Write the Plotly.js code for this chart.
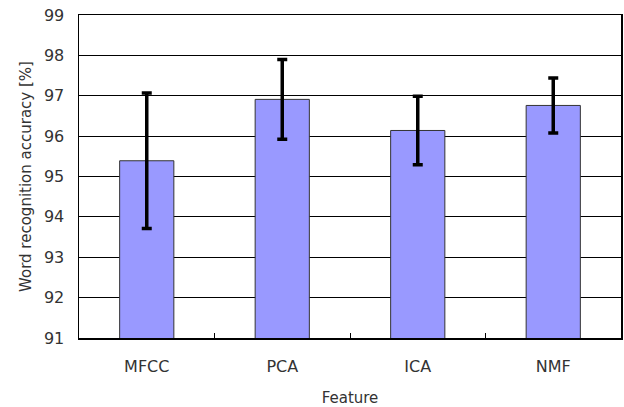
<!DOCTYPE html>
<html><head><meta charset="utf-8">
<script src="https://cdn.plot.ly/plotly-3.0.1.min.js"></script>
<style>html,body{margin:0;padding:0;background:#fff;}#chart{width:624px;height:407px;}</style>
</head><body><div id="chart"></div>
<script>
const categories = ["MFCC", "PCA", "ICA", "NMF"];
const accuracy = [95.39, 96.91, 96.14, 96.76];
const errorPlusMinus = [1.68, 0.99, 0.85, 0.68];
const yTicks = [91, 92, 93, 94, 95, 96, 97, 98, 99];

const trace = {
  type: "bar",
  x: categories,
  y: accuracy,
  marker: {color: "#9999FF", line: {color: "#333333", width: 1}},
  error_y: {type: "data", array: errorPlusMinus, visible: true, color: "#000000", thickness: 3.5, width: 5}
};

const layout = {
  width: 624, height: 407,
  margin: {l: 79, r: 3, t: 15, b: 69},
  paper_bgcolor: "#ffffff", plot_bgcolor: "#ffffff",
  font: {family: "DejaVu Sans, sans-serif", size: 15, color: "#333333"},
  bargap: 0.6,
  showlegend: false,
  xaxis: {
    type: "category",
    showline: true, linecolor: "#000000", linewidth: 1.5, mirror: true,
    ticks: "inside", tickson: "boundaries", ticklen: 5, tickcolor: "#000000",
    showgrid: false,
    tickfont: {size: 16, color: "#333333"},
    ticklabelstandoff: 13,
    title: {text: "Feature", font: {size: 15, color: "#333333"}, standoff: 18}
  },
  yaxis: {
    range: [91, 99],
    tickvals: yTicks,
    showline: true, linecolor: "#000000", linewidth: 1.5, mirror: true,
    showgrid: true, gridcolor: "#000000", gridwidth: 1,
    ticks: "", zeroline: false,
    tickfont: {size: 16, color: "#333333"},
    ticklabelstandoff: 10,
    title: {text: "Word recognition accuracy [%]", font: {size: 15, color: "#333333"}, standoff: 8}
  }
};

Plotly.newPlot("chart", [trace], layout, {displayModeBar: false, staticPlot: true});
</script>
</body></html>
